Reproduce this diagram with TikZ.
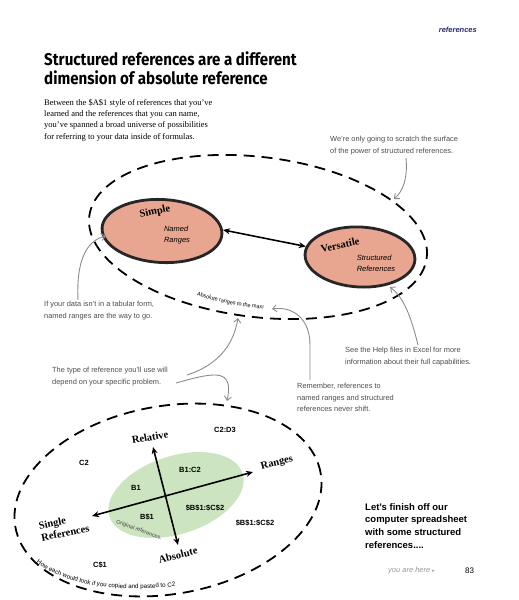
\documentclass[tikz,border=0pt]{standalone}
\usepackage{fontspec}
\setmainfont{Liberation Serif}
\setsansfont{Liberation Sans}
\newfontfamily\titlefont{Fira Sans}
\newfontfamily\dejavu{DejaVu Sans}
\usetikzlibrary{shapes.geometric,arrows.meta,decorations.text}
\definecolor{salmon}{HTML}{E8A690}
\definecolor{paleGreen}{HTML}{CDE4C0}
\definecolor{navy}{HTML}{2B2B6E}
\begin{document}
\begin{tikzpicture}[x=1pt,y=1pt,
  note/.style={font=\fontsize{7.4}{11.5}\selectfont\sffamily, text=black!70, align=left, inner sep=0, anchor=north west},
  noteArrow/.style={draw=black!45, line width=0.9pt, -{Straight Barb[length=4pt,width=7pt]}},
  bigdash/.style={draw, line width=1.8pt, dash pattern=on 11pt off 7pt},
  blob/.style={ellipse, draw=black!85, line width=2.8pt, fill=salmon, inner sep=0},
  axis/.style={line width=1.6pt, {Stealth[length=7pt,width=6pt]}-{Stealth[length=7pt,width=6pt]}},
  axlabel/.style={font=\fontsize{10.5}{12}\selectfont\bfseries, rotate=14, inner sep=0},
  cell/.style={font=\fontsize{7.5}{8}\selectfont\sffamily\bfseries, inner sep=0},
  blobtext/.style={font=\fontsize{7.5}{11}\selectfont\sffamily\itshape, align=left, inner sep=0}
]
\useasboundingbox (0,0) rectangle (519,-600);

% header
\node[anchor=east, font=\fontsize{7.5}{9}\selectfont\sffamily\bfseries\itshape, text=navy, inner sep=0] (hdr) at (477,-30) {references};

% title
\node[anchor=north west, align=left, inner sep=0, font=\fontsize{17}{19}\selectfont\titlefont\bfseries] (title) at (44,-52)
  {\scalebox{0.89}[1]{Structured references are a different}\\\scalebox{0.89}[1]{dimension of absolute reference}};

% body
\node[anchor=north west, align=left, inner sep=0, font=\fontsize{8.5}{11.3}\selectfont] (body) at (44,-99)
  {Between the \$A\$1 style of references that you've\\learned and the references that you can name,\\you've spanned a broad universe of possibilities\\for referring to your data inside of formulas.};

% notes
\node[note] (n1) at (330,-136) {We're only going to scratch the surface\\of the power of structured references.};
\node[note] (n2) at (44,-301) {If your data isn't in a tabular form,\\named ranges are the way to go.};
\node[note] (n3) at (52,-367) {The type of reference you'll use will\\depend on your specific problem.};
\node[note] (n4) at (345,-347) {See the Help files in Excel for more\\information about their full capabilities.};
\node[note] (n5) at (297,-383) {Remember, references to\\named ranges and structured\\references never shift.};

% top universe
\draw[bigdash, rotate around={-7:(258,-237)}] (258,-237) ellipse [x radius=170pt, y radius=80pt];
\node[blob, minimum width=120pt, minimum height=63pt, rotate=-3] (simple) at (162,-231) {};
\node[blob, minimum width=110pt, minimum height=60pt, rotate=-3] (versatile) at (360,-257) {};
\node[axlabel, rotate=-2] (simpleLbl) at (155,-212) {Simple};
\node[blobtext] (named) at (177,-235) {Named\\Ranges};
\node[axlabel, rotate=-2] (versLbl) at (340,-245) {Versatile};
\node[blobtext] (structured) at (376,-263) {Structured\\References};
\draw[axis] (simple.4) -- (versatile.172);
\path[decorate, decoration={text along path, text align=center,
  text={|\fontsize{5.5}{6}\selectfont\sffamily|Absolute ranges to the max!}}]
  (186,-292) .. controls (222,-304) and (250,-309) .. (275,-310);

% targets of notes
\coordinate (t1) at (394,-199);
\coordinate (t2) at (106,-236);
\coordinate (t4) at (390,-287);
\coordinate (t5) at (272,-309);
\coordinate (t3a) at (238,-318);
\coordinate (t3b) at (227,-401);
\coordinate (s1) at (406,-158);
\coordinate (s2) at (78,-300);
\coordinate (s4) at (418,-345);
\coordinate (s5) at (310,-380);
\coordinate (s3a) at (187,-375);
\coordinate (s3b) at (176,-383);

\draw[noteArrow] (s1) .. controls (408,-180) and (402,-192) .. (t1);
\draw[noteArrow] (s2) .. controls (76,-258) and (88,-240) .. (t2);
\draw[noteArrow] (s4) .. controls (410,-312) and (402,-296) .. (t4);
\draw[noteArrow] (s5) -- (310,-345) .. controls (310,-318) and (292,-306) .. (t5);
\draw[noteArrow] (s3a) .. controls (215,-366) and (233,-348) .. (t3a);
\draw[noteArrow] (s3b) .. controls (215,-372) and (234,-368) .. (t3b);

% bottom universe
\draw[bigdash, rotate around={10:(168,-500)}] (168,-500) ellipse [x radius=155pt, y radius=94pt];
\fill[paleGreen, rotate around={18:(176,-495)}] (176,-495) ellipse [x radius=70pt, y radius=39pt];
\coordinate (relTip) at (153,-447);
\coordinate (absTip) at (178,-545);
\coordinate (rngTip) at (253,-472);
\coordinate (sglTip) at (92,-516);
\draw[axis] (relTip) -- (absTip);
\draw[axis] (sglTip) -- (rngTip);
\node[axlabel, rotate=-4] (rel) at (150,-437) {Relative};
\node[axlabel] (rng) at (277,-463) {Ranges};
\node[axlabel] (abs) at (178,-555) {Absolute};
\node[axlabel, rotate=-2, align=left] (sgl) at (64,-527) {Single\\References};

\node[cell] (c2d3) at (225,-430) {C2:D3};
\node[cell] (c2) at (84,-463) {C2};
\node[cell] (b1c2) at (190,-470) {B1:C2};
\node[cell] (b1) at (136,-488) {B1};
\node[cell] (ab1c2) at (205,-508) {\$B\$1:\$C\$2};
\node[cell] (b1abs) at (147,-517) {B\$1};
\node[cell] (ab1c2b) at (255,-523) {\$B\$1:\$C\$2};
\node[cell] (c1abs) at (100,-565) {C\$1};
\node[font=\fontsize{5.5}{6}\selectfont\sffamily, text=black!75, rotate=-20, inner sep=0] (orig) at (139,-530) {Original references.};
\path[decorate, decoration={text along path, text align=center,
  text={|\fontsize{6.2}{7}\selectfont\sffamily|How each would look if you copied and pasted to C2}}]
  (28,-556) .. controls (60,-584) and (110,-595) .. (186,-585);

% closing text
\node[anchor=north west, align=left, inner sep=0, font=\fontsize{9.5}{12.7}\selectfont\sffamily\bfseries] (finish) at (365,-503)
  {Let's finish off our\\computer spreadsheet\\with some structured\\references....};
\node[anchor=west, inner sep=0, font=\fontsize{7.5}{9}\selectfont\sffamily\itshape, text=black!40] (here) at (388,-571) {you are here {\dejavu\upshape\fontsize{5}{6}\selectfont ▸}};
\node[anchor=west, inner sep=0, font=\fontsize{8}{9}\selectfont\sffamily] (page) at (465,-571) {83};
\end{tikzpicture}
\end{document}
